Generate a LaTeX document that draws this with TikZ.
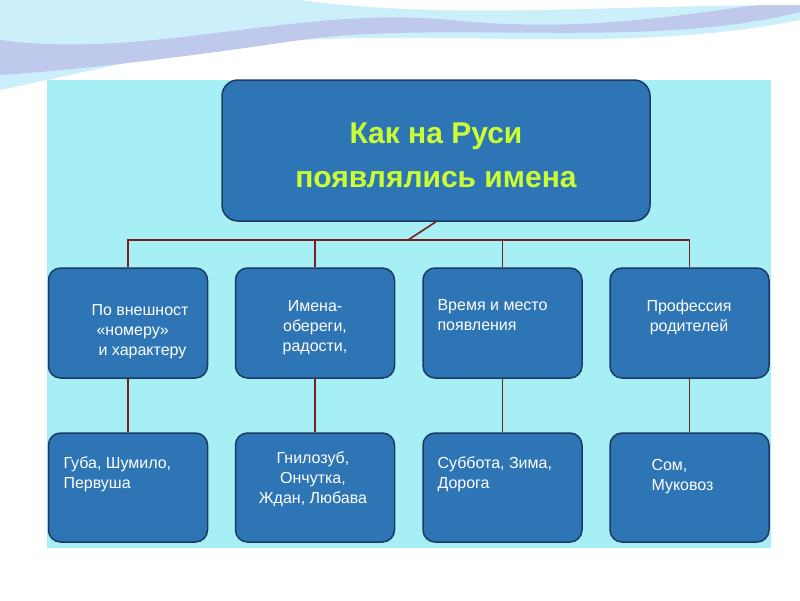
\documentclass[tikz,border=0pt]{standalone}
\usepackage{fontspec}
\setmainfont{Liberation Sans}
\begin{document}
\begin{tikzpicture}[x=1pt,y=-1pt,
  box/.style={draw=boxline,line width=1.5pt,fill=boxfill,rounded corners=12pt},
  conn/.style={draw=connred,line width=1.6pt},
  txt/.style={text=white,font=\fontsize{16}{20}\selectfont}]
\definecolor{boxfill}{HTML}{2E75B6}
\definecolor{boxline}{HTML}{1F3864}
\definecolor{connred}{HTML}{7A1E1E}
\definecolor{panel}{HTML}{A6F0F5}
\definecolor{titlec}{HTML}{CCFF33}
\useasboundingbox (0,0) rectangle (800,600);
\fill[white] (0,0) rectangle (800,600);
% top waves
\fill[cyan!20] (0,0) -- (800,0) -- (800,20) .. controls (600,60) and (400,20) .. (200,50) .. controls (120,62) and (50,80) .. (0,90) -- cycle;
\fill[cyan!40!blue!25] (0,40) .. controls (150,60) and (300,5) .. (450,20) .. controls (600,35) and (700,10) .. (800,0) -- (800,12) .. controls (650,50) and (450,20) .. (300,40) .. controls (200,55) and (80,70) .. (0,75) -- cycle;
\fill[white] (300,0) .. controls (450,20) and (600,5) .. (800,5) -- (800,0) -- cycle;
% panel
\fill[panel] (47,80) rectangle (771,548);
% boxes
\node[box,minimum width=428pt,minimum height=141pt,rounded corners=16pt] (t) at (436,150.5) {};
\node[text=titlec,font=\fontsize{30}{44}\selectfont\bfseries,align=center] at (436,155) {Как на Руси\\появлялись имена};
\foreach \n/\x in {a/128,b/315,c/502.5,d/689.5}{
  \node[box,minimum width=159pt,minimum height=110pt] (\n1) at (\x,323) {};
  \node[box,minimum width=159pt,minimum height=109pt] (\n2) at (\x,487.5) {};
  \draw[conn] (\n1.south) -- (\n2.north);
}
\coordinate (h) at (408,240);
\draw[conn] (t.south) -- (h);
\draw[conn] (a1.north) |- (h) -| (d1.north);
\draw[conn] (b1.north) -- (b1.north|-h);
\draw[conn] (c1.north) -- (c1.north|-h);
% texts
\node[txt,align=left,anchor=north west] at (88,301) {По внешност\\\hspace*{5pt}«номеру»\\\hspace*{7pt}и характеру};
\node[txt,align=center,anchor=north] at (315,297) {Имена-\\обереги,\\радости,};
\node[txt,align=left,anchor=north west] at (434,296) {Время и место\\появления};
\node[txt,align=center,anchor=north] at (689,296) {Профессия\\родителей};
\node[txt,align=left,anchor=north west] at (60,453) {Губа, Шумило,\\Первуша};
\node[txt,align=center,anchor=north] at (313,448) {Гнилозуб,\\Ончутка,\\Ждан, Любава};
\node[txt,align=left,anchor=north west] at (434,453) {Суббота, Зима,\\Дорога};
\node[txt,align=left,anchor=north west] at (648,456) {Сом,\\Муковоз};
\end{tikzpicture}
\end{document}
